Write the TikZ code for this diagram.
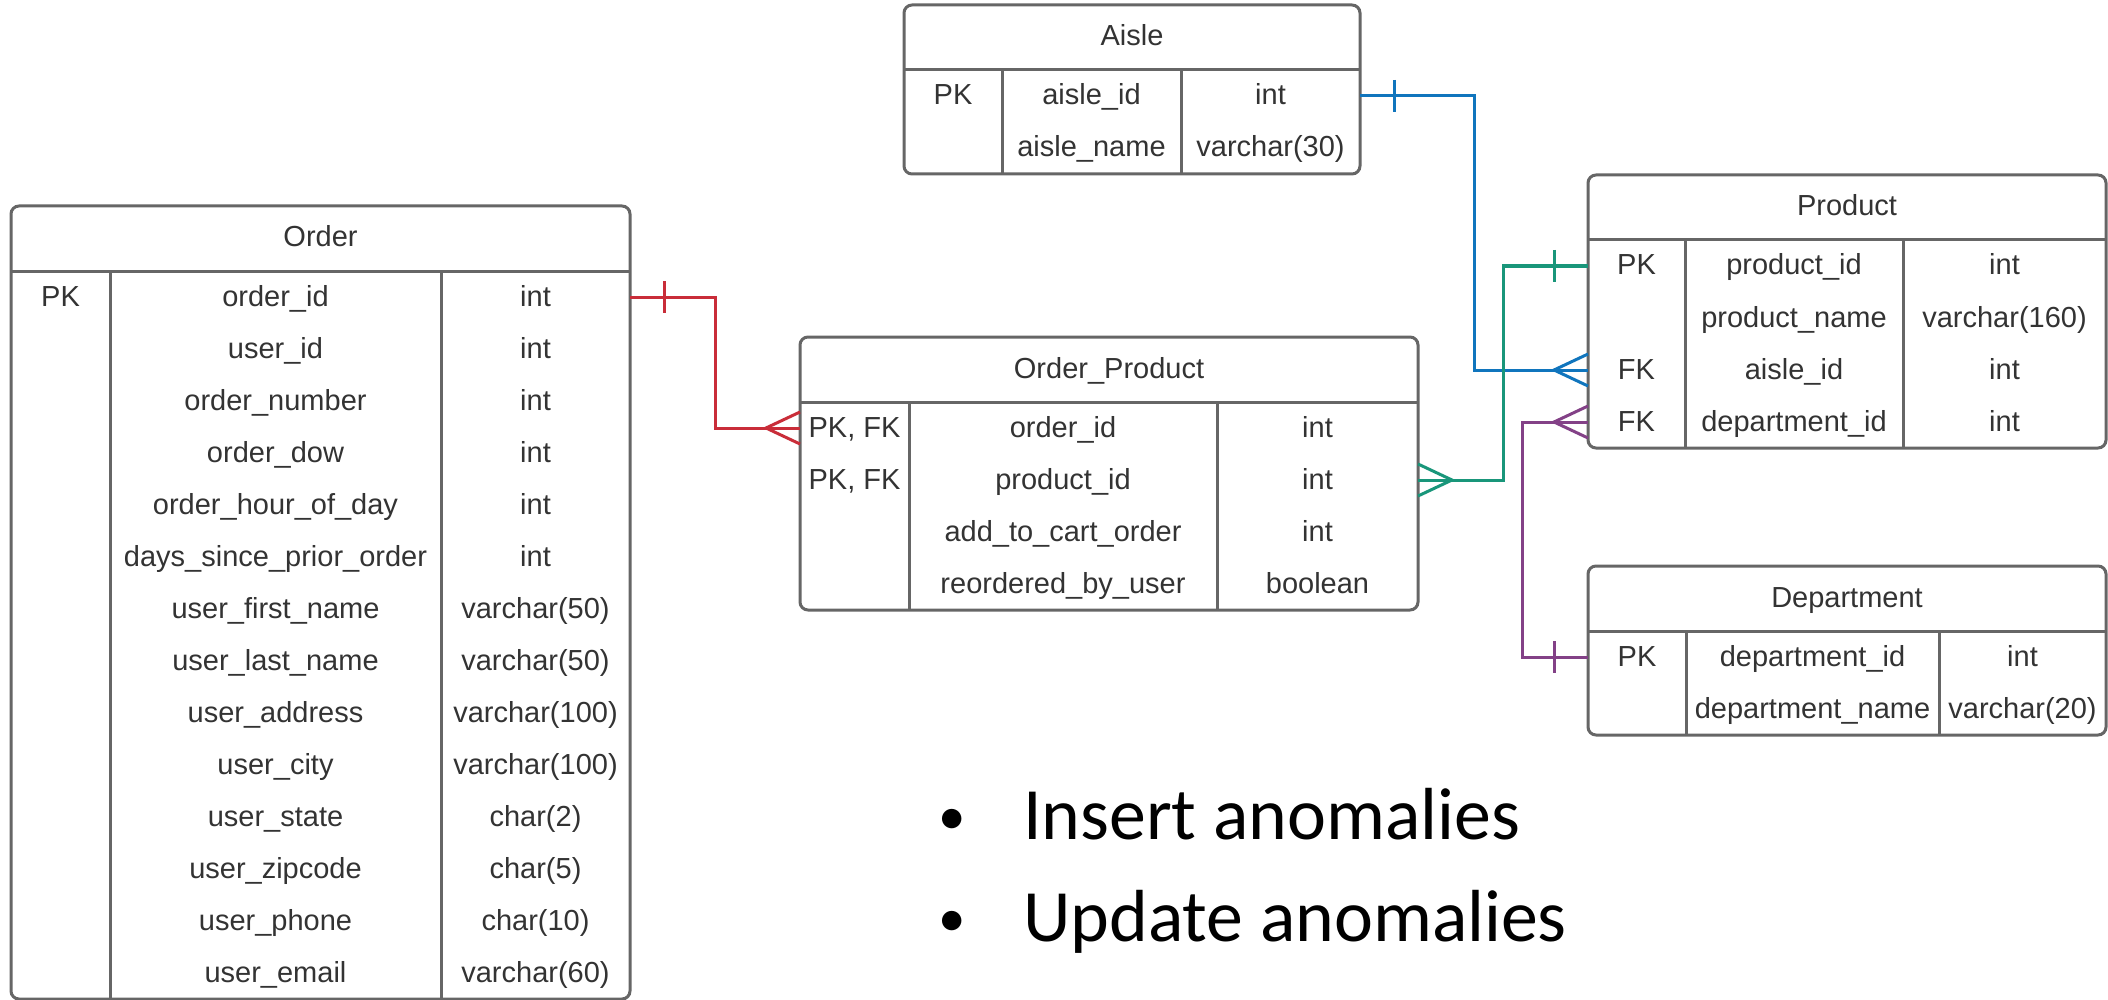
\documentclass[tikz,border=0pt]{standalone}
\usepackage{fontspec}
\setmainfont{Liberation Sans}
\newfontfamily\slidefont{Carlito}
\usetikzlibrary{calc}

\definecolor{framegray}{HTML}{666666}
\definecolor{inkgray}{HTML}{333333}
\definecolor{relred}{RGB}{201,45,57}
\definecolor{relblue}{RGB}{16,117,189}
\definecolor{relgreen}{RGB}{25,150,122}
\definecolor{relpurple}{RGB}{131,65,135}

\newcommand\erfont{\fontsize{29}{34}\selectfont}

% #1 name, #2 left, #3 top, #4 right, #5 first split, #6 second split,
% #7 title, #8 number of rows, #9 rows as index/key/field/type
\newcommand\ertable[9]{%
  \pgfmathsetmacro\ertw{#4-#2}%
  \pgfmathsetmacro\erth{65+52*#8}%
  \pgfmathsetmacro\erhb{#3+65}%
  \pgfmathsetmacro\ertb{#3+\erth}%
  \node[frame, minimum width=\ertw pt, minimum height=\erth pt] (#1) at (#2,#3) {};
  \draw[rule] (#2,\erhb) -- (#4,\erhb);
  \draw[rule] (#5,\erhb) -- (#5,\ertb);
  \draw[rule] (#6,\erhb) -- (#6,\ertb);
  \node[cell] (#1-title) at ({(#2+#4)/2},{#3+41}) {#7};
  \foreach \rk/\cpk/\cname/\ctype in {#9} {
    \pgfmathsetmacro\ertop{\erhb+52*(\rk-1)}
    \node[rowbox, minimum width=\ertw pt] (#1-\rk) at (#2,\ertop) {};
    \if\relax\detokenize\expandafter{\cpk}\relax\else
      \node[cell] (#1-\rk-key) at ({(#2+#5)/2},{\ertop+35}) {\cpk};
    \fi
    \node[cell] (#1-\rk-field) at ({(#5+#6)/2},{\ertop+35}) {\cname};
    \node[cell] (#1-\rk-type) at ({(#6+#4)/2},{\ertop+35}) {\ctype};
  }%
}

% relationship ends: #1 anchor, #2 direction away from the table (+1/-1), #3 colour
\newcommand\onemark[3]{%
  \draw[conn,#3] ($(#1)+(#2*34,-16)$) -- ($(#1)+(#2*34,16)$);}
\newcommand\manymark[3]{%
  \draw[conn,#3] ($(#1)+(0,-16)$) -- ($(#1)+(#2*34,0)$) -- ($(#1)+(0,16)$);}

\begin{document}
\begin{tikzpicture}[x=1pt, y=-1pt,
  frame/.style={draw=framegray, line width=3pt, rounded corners=8pt,
    anchor=north west, inner sep=0pt, outer sep=0pt},
  rule/.style={draw=framegray, line width=3pt},
  rowbox/.style={anchor=north west, minimum height=52pt, inner sep=0pt, outer sep=0pt},
  cell/.style={anchor=base, inner sep=0pt, outer sep=0pt, text=inkgray, font=\erfont},
  conn/.style={line width=3pt},
  slide/.style={anchor=base west, inner sep=0pt, text=black,
    font=\slidefont\fontsize{73.8}{88}\selectfont},
  slidedot/.style={anchor=base, inner sep=0pt, text=black,
    font=\slidefont\fontsize{55}{66}\selectfont}]

\path[use as bounding box, fill=white] (0,0) rectangle (2108,1000);

\ertable{ord}{11}{206}{630}{110}{441}{Order}{14}{%
  1/PK/order\_id/int, 2//user\_id/int, 3//order\_number/int, 4//order\_dow/int,
  5//order\_hour\_of\_day/int, 6//days\_since\_prior\_order/int,
  7//user\_first\_name/varchar(50), 8//user\_last\_name/varchar(50),
  9//user\_address/varchar(100), 10//user\_city/varchar(100),
  11//user\_state/char(2), 12//user\_zipcode/char(5),
  13//user\_phone/char(10), 14//user\_email/varchar(60)}

\ertable{aisle}{904}{5}{1360}{1002}{1181}{Aisle}{2}{%
  1/PK/aisle\_id/int, 2//aisle\_name/varchar(30)}

\ertable{op}{800}{337}{1418}{909}{1217}{Order\_Product}{4}{%
  1/{PK, FK}/order\_id/int, 2/{PK, FK}/product\_id/int,
  3//add\_to\_cart\_order/int, 4//reordered\_by\_user/boolean}

\ertable{prod}{1588}{175}{2106}{1685}{1903}{Product}{4}{%
  1/PK/product\_id/int, 2//product\_name/varchar(160),
  3/FK/aisle\_id/int, 4/FK/department\_id/int}

\ertable{dept}{1588}{566}{2106}{1686}{1939}{Department}{2}{%
  1/PK/department\_id/int, 2//department\_name/varchar(20)}

% Order 1 -- many Order_Product
\draw[conn, relred] (ord-1.east) -| ($(ord-1.east)!0.5!(op-1.west)$) |- (op-1.west);
\onemark{ord-1.east}{1}{relred}
\manymark{op-1.west}{-1}{relred}

% Aisle 1 -- many Product
\draw[conn, relblue] (aisle-1.east) -| ($(aisle-1.east)!0.5!(prod-3.west)$) |- (prod-3.west);
\onemark{aisle-1.east}{1}{relblue}
\manymark{prod-3.west}{-1}{relblue}

% Product 1 -- many Order_Product
\draw[conn, relgreen] (op-2.east) -| ($(op-2.east)!0.5!(prod-1.west)$) |- (prod-1.west);
\manymark{op-2.east}{1}{relgreen}
\onemark{prod-1.west}{-1}{relgreen}

% Department 1 -- many Product
\draw[conn, relpurple] (prod-4.west) -| ($(prod-4.west)+(-66,0)$) |- (dept-1.west);
\manymark{prod-4.west}{-1}{relpurple}
\onemark{dept-1.west}{-1}{relpurple}

% bullet list
\node[slidedot] (ins-dot) at (952,834) {\textbullet};
\node[slide] (ins) at (1023,839) {Insert anomalies};
\node[slidedot] (upd-dot) at (952,936) {\textbullet};
\node[slide] (upd) at (1023,941) {Update anomalies};
\end{tikzpicture}
\end{document}
